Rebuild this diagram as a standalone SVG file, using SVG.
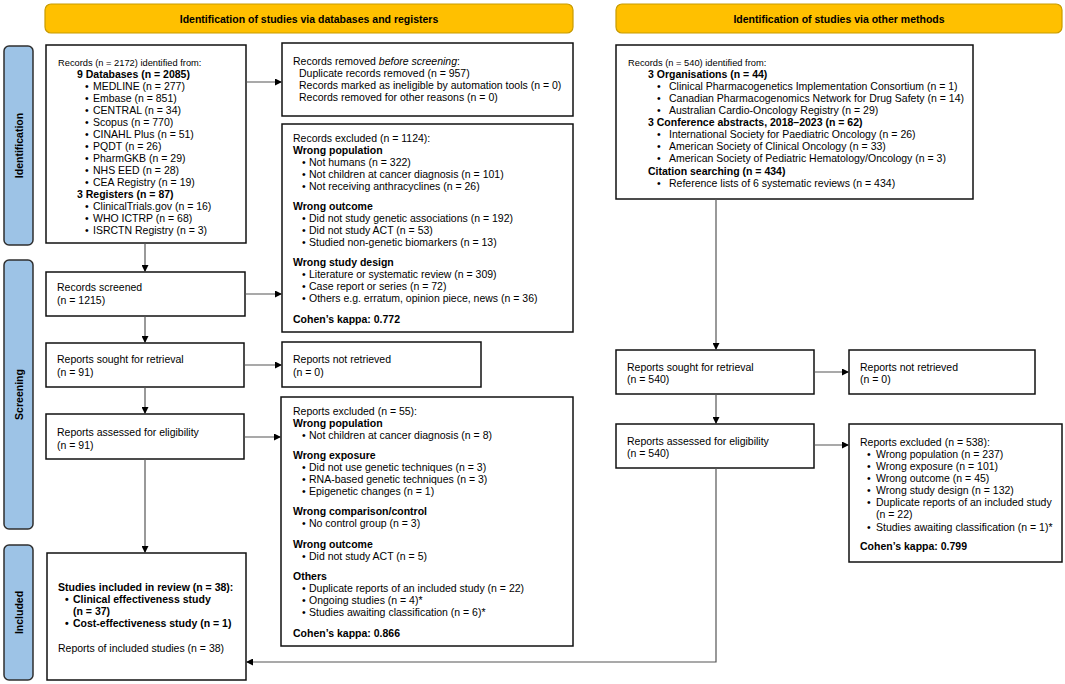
<svg xmlns="http://www.w3.org/2000/svg" width="1065" height="684" viewBox="0 0 1065 684">
<defs>
<style>
text{font-family:"Liberation Sans",Arial,sans-serif;font-size:10.5px;fill:#000}
.b{font-weight:bold}
.hdr{fill:#FFC000;stroke:#C89B00;stroke-width:1.2}
.side{fill:#9DC3E6;stroke:#2F2F2F;stroke-width:1.5}
.box{fill:#fff;stroke:#111;stroke-width:1.5}
.con{fill:none;stroke:#555;stroke-width:1.2}
.ht{font-weight:bold;text-anchor:middle}
.st{font-weight:bold;text-anchor:middle;font-size:10.5px}
.sm{font-size:9.3px}
</style>
<marker id="ar" viewBox="0 0 10 10" refX="10" refY="5" markerWidth="7" markerHeight="7" markerUnits="userSpaceOnUse" orient="auto">
<path d="M0,0L10,5L0,10z" fill="#000"/>
</marker>
</defs>
<rect width="1065" height="684" fill="#fff"/>

<g id="header-left"><rect class="hdr" x="45" y="4" width="528" height="29" rx="6"/><text class="ht" x="309" y="22.5">Identification of studies via databases and registers</text></g>
<g id="header-right"><rect class="hdr" x="616" y="4" width="446" height="29" rx="6"/><text class="ht" x="839" y="22.5">Identification of studies via other methods</text></g>

<g id="side-identification"><rect class="side" x="4" y="46" width="29" height="199" rx="5"/><text class="st" transform="translate(22.5,145.5) rotate(-90)">Identification</text></g>
<g id="side-screening"><rect class="side" x="4" y="260" width="29" height="269" rx="5"/><text class="st" transform="translate(22.5,394.5) rotate(-90)">Screening</text></g>
<g id="side-included"><rect class="side" x="4" y="545" width="29" height="135" rx="5"/><text class="st" transform="translate(22.5,612.5) rotate(-90)">Included</text></g>

<g id="records-db">
<rect class="box" x="46" y="45" width="200" height="198"/>
<text class="sm" x="58" y="66">Records (n = 2172) identified from:</text>
<text class="b" x="77" y="78">9 Databases (n = 2085)</text>
<text x="85" y="90">•</text><text x="93" y="90">MEDLINE (n = 277)</text>
<text x="85" y="102">•</text><text x="93" y="102">Embase (n = 851)</text>
<text x="85" y="114">•</text><text x="93" y="114">CENTRAL (n = 34)</text>
<text x="85" y="126">•</text><text x="93" y="126">Scopus (n = 770)</text>
<text x="85" y="138">•</text><text x="93" y="138">CINAHL Plus (n = 51)</text>
<text x="85" y="150">•</text><text x="93" y="150">PQDT (n = 26)</text>
<text x="85" y="162">•</text><text x="93" y="162">PharmGKB (n = 29)</text>
<text x="85" y="174">•</text><text x="93" y="174">NHS EED (n = 28)</text>
<text x="85" y="186">•</text><text x="93" y="186">CEA Registry (n = 19)</text>
<text class="b" x="77" y="198">3 Registers (n = 87)</text>
<text x="85" y="210">•</text><text x="93" y="210">ClinicalTrials.gov (n = 16)</text>
<text x="85" y="222">•</text><text x="93" y="222">WHO ICTRP (n = 68)</text>
<text x="85" y="234">•</text><text x="93" y="234">ISRCTN Registry (n = 3)</text>
</g>

<g id="removed-before">
<rect class="box" x="282" y="43" width="291" height="73"/>
<text x="293" y="65">Records removed <tspan font-style="italic">before screening</tspan>:</text>
<text x="299" y="77">Duplicate records removed (n = 957)</text>
<text x="299" y="89">Records marked as ineligible by automation tools (n = 0)</text>
<text x="299" y="101">Records removed for other reasons (n = 0)</text>
</g>

<g id="records-excluded">
<rect class="box" x="282" y="124" width="291" height="208"/>
<text x="293" y="142">Records excluded (n = 1124):</text>
<text class="b" x="293" y="154">Wrong population</text>
<text x="302" y="166">•</text><text x="309" y="166">Not humans (n = 322)</text>
<text x="302" y="178">•</text><text x="309" y="178">Not children at cancer diagnosis (n = 101)</text>
<text x="302" y="190">•</text><text x="309" y="190">Not receiving anthracyclines (n = 26)</text>
<text class="b" x="293" y="210">Wrong outcome</text>
<text x="302" y="222">•</text><text x="309" y="222">Did not study genetic associations (n = 192)</text>
<text x="302" y="234">•</text><text x="309" y="234">Did not study ACT (n = 53)</text>
<text x="302" y="246">•</text><text x="309" y="246">Studied non-genetic biomarkers (n = 13)</text>
<text class="b" x="293" y="266">Wrong study design</text>
<text x="302" y="278">•</text><text x="309" y="278">Literature or systematic review (n = 309)</text>
<text x="302" y="290">•</text><text x="309" y="290">Case report or series (n = 72)</text>
<text x="302" y="302">•</text><text x="309" y="302">Others e.g. erratum, opinion piece, news (n = 36)</text>
<text class="b" x="293" y="323">Cohen’s kappa: 0.772</text>
</g>

<g id="records-screened">
<rect class="box" x="46" y="272" width="199" height="44"/>
<text x="57" y="291">Records screened</text>
<text x="57" y="304">(n = 1215)</text>
</g>

<g id="sought-db">
<rect class="box" x="46" y="343" width="198" height="44"/>
<text x="57" y="363">Reports sought for retrieval</text>
<text x="57" y="376">(n = 91)</text>
</g>

<g id="not-retrieved-db">
<rect class="box" x="282" y="342" width="199" height="45"/>
<text x="293" y="363">Reports not retrieved</text>
<text x="293" y="376">(n = 0)</text>
</g>

<g id="assessed-db">
<rect class="box" x="46" y="414" width="198" height="45"/>
<text x="57" y="436">Reports assessed for eligibility</text>
<text x="57" y="449">(n = 91)</text>
</g>

<g id="reports-excluded-db">
<rect class="box" x="281" y="397" width="292" height="249"/>
<text x="293" y="415">Reports excluded (n = 55):</text>
<text class="b" x="293" y="427">Wrong population</text>
<text x="302" y="439">•</text><text x="309" y="439">Not children at cancer diagnosis (n = 8)</text>
<text class="b" x="293" y="459">Wrong exposure</text>
<text x="302" y="471">•</text><text x="309" y="471">Did not use genetic techniques (n = 3)</text>
<text x="302" y="483">•</text><text x="309" y="483">RNA-based genetic techniques (n = 3)</text>
<text x="302" y="495">•</text><text x="309" y="495">Epigenetic changes (n = 1)</text>
<text class="b" x="293" y="515">Wrong comparison/control</text>
<text x="302" y="527">•</text><text x="309" y="527">No control group (n = 3)</text>
<text class="b" x="293" y="548">Wrong outcome</text>
<text x="302" y="560">•</text><text x="309" y="560">Did not study ACT (n = 5)</text>
<text class="b" x="293" y="580">Others</text>
<text x="302" y="592">•</text><text x="309" y="592">Duplicate reports of an included study (n = 22)</text>
<text x="302" y="604">•</text><text x="309" y="604">Ongoing studies (n = 4)*</text>
<text x="302" y="616">•</text><text x="309" y="616">Studies awaiting classification (n = 6)*</text>
<text class="b" x="293" y="637">Cohen’s kappa: 0.866</text>
</g>

<g id="included">
<rect class="box" x="47" y="553" width="199" height="127"/>
<text class="b" x="58" y="591">Studies included in review (n = 38):</text>
<text class="b" x="65" y="603">•</text><text class="b" x="73" y="603">Clinical effectiveness study</text>
<text class="b" x="73" y="615">(n = 37)</text>
<text class="b" x="65" y="627">•</text><text class="b" x="73" y="627">Cost-effectiveness study (n = 1)</text>
<text x="58" y="652">Reports of included studies (n = 38)</text>
</g>

<g id="records-other">
<rect class="box" x="616" y="45" width="357" height="154"/>
<text class="sm" x="628" y="65.5">Records (n = 540) identified from:</text>
<text class="b" x="648" y="77.5">3 Organisations (n = 44)</text>
<text x="657" y="90">•</text><text x="669" y="90">Clinical Pharmacogenetics Implementation Consortium (n = 1)</text>
<text x="657" y="102">•</text><text x="669" y="102">Canadian Pharmacogenomics Network for Drug Safety (n = 14)</text>
<text x="657" y="114">•</text><text x="669" y="114">Australian Cardio-Oncology Registry (n = 29)</text>
<text class="b" x="648" y="126">3 Conference abstracts, 2018–2023 (n = 62)</text>
<text x="657" y="138">•</text><text x="669" y="138">International Society for Paediatric Oncology (n = 26)</text>
<text x="657" y="150">•</text><text x="669" y="150">American Society of Clinical Oncology (n = 33)</text>
<text x="657" y="162">•</text><text x="669" y="162">American Society of Pediatric Hematology/Oncology (n = 3)</text>
<text class="b" x="648" y="174.5">Citation searching (n = 434)</text>
<text x="657" y="187">•</text><text x="669" y="187">Reference lists of 6 systematic reviews (n = 434)</text>
</g>

<g id="sought-other">
<rect class="box" x="616" y="350" width="198" height="44"/>
<text x="627" y="370.5">Reports sought for retrieval</text>
<text x="627" y="383">(n = 540)</text>
</g>

<g id="not-retrieved-other">
<rect class="box" x="849" y="350" width="186" height="44"/>
<text x="860" y="370.5">Reports not retrieved</text>
<text x="860" y="383">(n = 0)</text>
</g>

<g id="assessed-other">
<rect class="box" x="616" y="424" width="198" height="44"/>
<text x="627" y="444.5">Reports assessed for eligibility</text>
<text x="627" y="457">(n = 540)</text>
</g>

<g id="reports-excluded-other">
<rect class="box" x="849" y="424" width="213" height="138"/>
<text x="860" y="445.5">Reports excluded (n = 538):</text>
<text x="867" y="457.5">•</text><text x="876" y="457.5">Wrong population (n = 237)</text>
<text x="867" y="470">•</text><text x="876" y="470">Wrong exposure (n = 101)</text>
<text x="867" y="482">•</text><text x="876" y="482">Wrong outcome (n = 45)</text>
<text x="867" y="494">•</text><text x="876" y="494">Wrong study design (n = 132)</text>
<text x="867" y="506">•</text><text x="876" y="506">Duplicate reports of an included study</text>
<text x="876" y="518">(n = 22)</text>
<text x="867" y="530.5">•</text><text x="876" y="530.5">Studies awaiting classification (n = 1)*</text>
<text class="b" x="860" y="550">Cohen’s kappa: 0.799</text>
</g>

<g id="connectors">
<path class="con" marker-end="url(#ar)" d="M246,82H282"/>
<path class="con" marker-end="url(#ar)" d="M145,243V272"/>
<path class="con" marker-end="url(#ar)" d="M245,294H282"/>
<path class="con" marker-end="url(#ar)" d="M145,316V343"/>
<path class="con" marker-end="url(#ar)" d="M244,365H282"/>
<path class="con" marker-end="url(#ar)" d="M145,387V414"/>
<path class="con" marker-end="url(#ar)" d="M244,437H281"/>
<path class="con" marker-end="url(#ar)" d="M145,459V553"/>
<path class="con" marker-end="url(#ar)" d="M716,199V350"/>
<path class="con" marker-end="url(#ar)" d="M814,372H849"/>
<path class="con" marker-end="url(#ar)" d="M716,394V424"/>
<path class="con" marker-end="url(#ar)" d="M814,445H849"/>
<path class="con" marker-end="url(#ar)" d="M716,468V662H246"/>
</g>
</svg>
